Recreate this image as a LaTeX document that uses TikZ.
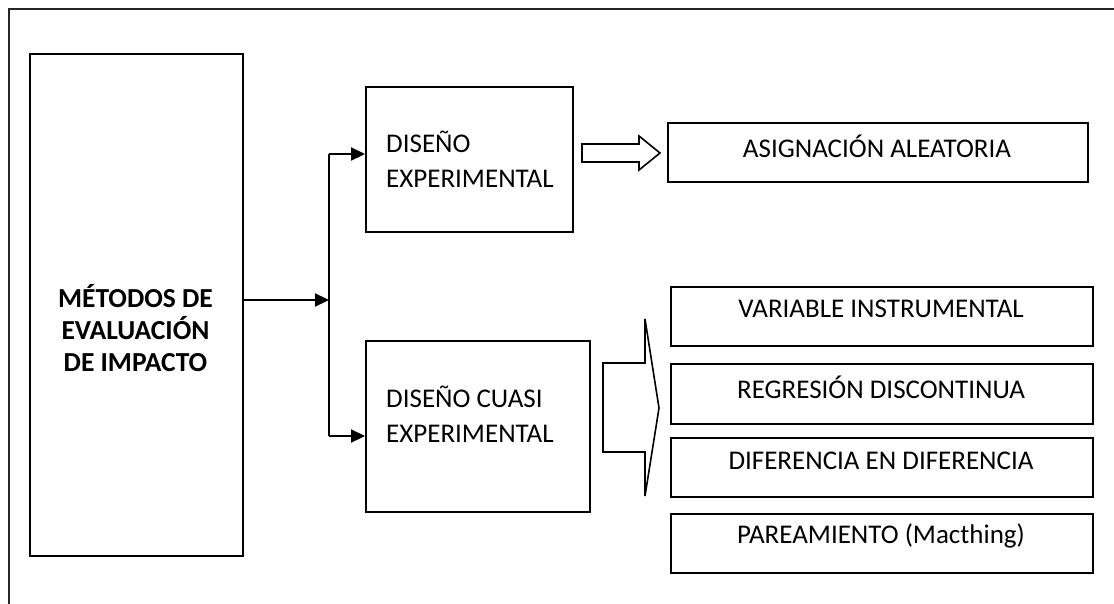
\documentclass[tikz,border=0pt]{standalone}
\usepackage{fontspec}
\setmainfont{Carlito}
\usetikzlibrary{arrows.meta}
\begin{document}
\begin{tikzpicture}[x=1pt,y=-1pt,
  box/.style={draw=black,line width=1.6pt,anchor=north west,inner sep=0pt},
  txt/.style={font=\fontsize{27}{35}\selectfont,inner sep=0pt,align=left},
  btxt/.style={font=\fontsize{27.5}{32}\selectfont\bfseries,inner sep=0pt,align=center},
  conn/.style={line width=2.2pt,-{Triangle[length=14pt,width=13pt]}},
  plain/.style={line width=2.2pt},
  blockarrow/.style={draw=black,line width=1.6pt,fill=white,line join=miter}]
\useasboundingbox (0,0) rectangle (1114,603);
% outer frame (open to right and bottom)
\draw[line width=2pt,draw=black!85] (8.5,640) -- (8.5,9) -- (1130,9);
% main box
\node[box,minimum width=213pt,minimum height=502pt] (main) at (29,53) {};
\node[btxt] (maint) at (135.5,328) {MÉTODOS DE\\EVALUACIÓN\\DE IMPACTO};
% design boxes
\node[box,minimum width=207pt,minimum height=145pt] (exp) at (365,86) {};
\node[txt,anchor=west] (expt) at (386,159) {DISEÑO\\EXPERIMENTAL};
\node[box,minimum width=224pt,minimum height=171pt] (cuasi) at (365,340) {};
\node[txt,anchor=west] (cuasit) at (386,414) {DISEÑO CUASI\\EXPERIMENTAL};
% method boxes
\node[box,minimum width=420pt,minimum height=59pt] (asig) at (667,122) {};
\node[txt] (asigt) at (877,146) {ASIGNACIÓN ALEATORIA};
\node[box,minimum width=422pt,minimum height=59pt] (var) at (670,286) {};
\node[txt] (vart) at (881,309) {VARIABLE INSTRUMENTAL};
\node[box,minimum width=422pt,minimum height=60pt] (reg) at (670,363) {};
\node[txt] (regt) at (881,387) {REGRESIÓN DISCONTINUA};
\node[box,minimum width=422pt,minimum height=59pt] (dif) at (670,437) {};
\node[txt] (dift) at (881,461) {DIFERENCIA EN DIFERENCIA};
\node[box,minimum width=422pt,minimum height=59pt] (par) at (670,513) {};
\node[txt] (part) at (881,536) {PAREAMIENTO (Macthing)};
% connectors
\coordinate (split) at (329,300);
\coordinate (jtop) at (329,154);
\coordinate (jbot) at (329,436);
\draw[conn] (main.east |- split) -- (split);
\draw[plain] (jtop) -- (jbot);
\draw[conn] (jtop) -- (jtop -| exp.west);
\draw[conn] (jbot) -- (jbot -| cuasi.west);
% block arrows
\draw[blockarrow] (582,144) -- (639,144) -- (639,136) -- (660,153) -- (639,170) -- (639,162) -- (582,162) -- cycle;
\draw[blockarrow] (603,363) -- (645,363) -- (645,319) -- (659,408) -- (645,496) -- (645,452) -- (603,452) -- cycle;
\end{tikzpicture}
\end{document}
